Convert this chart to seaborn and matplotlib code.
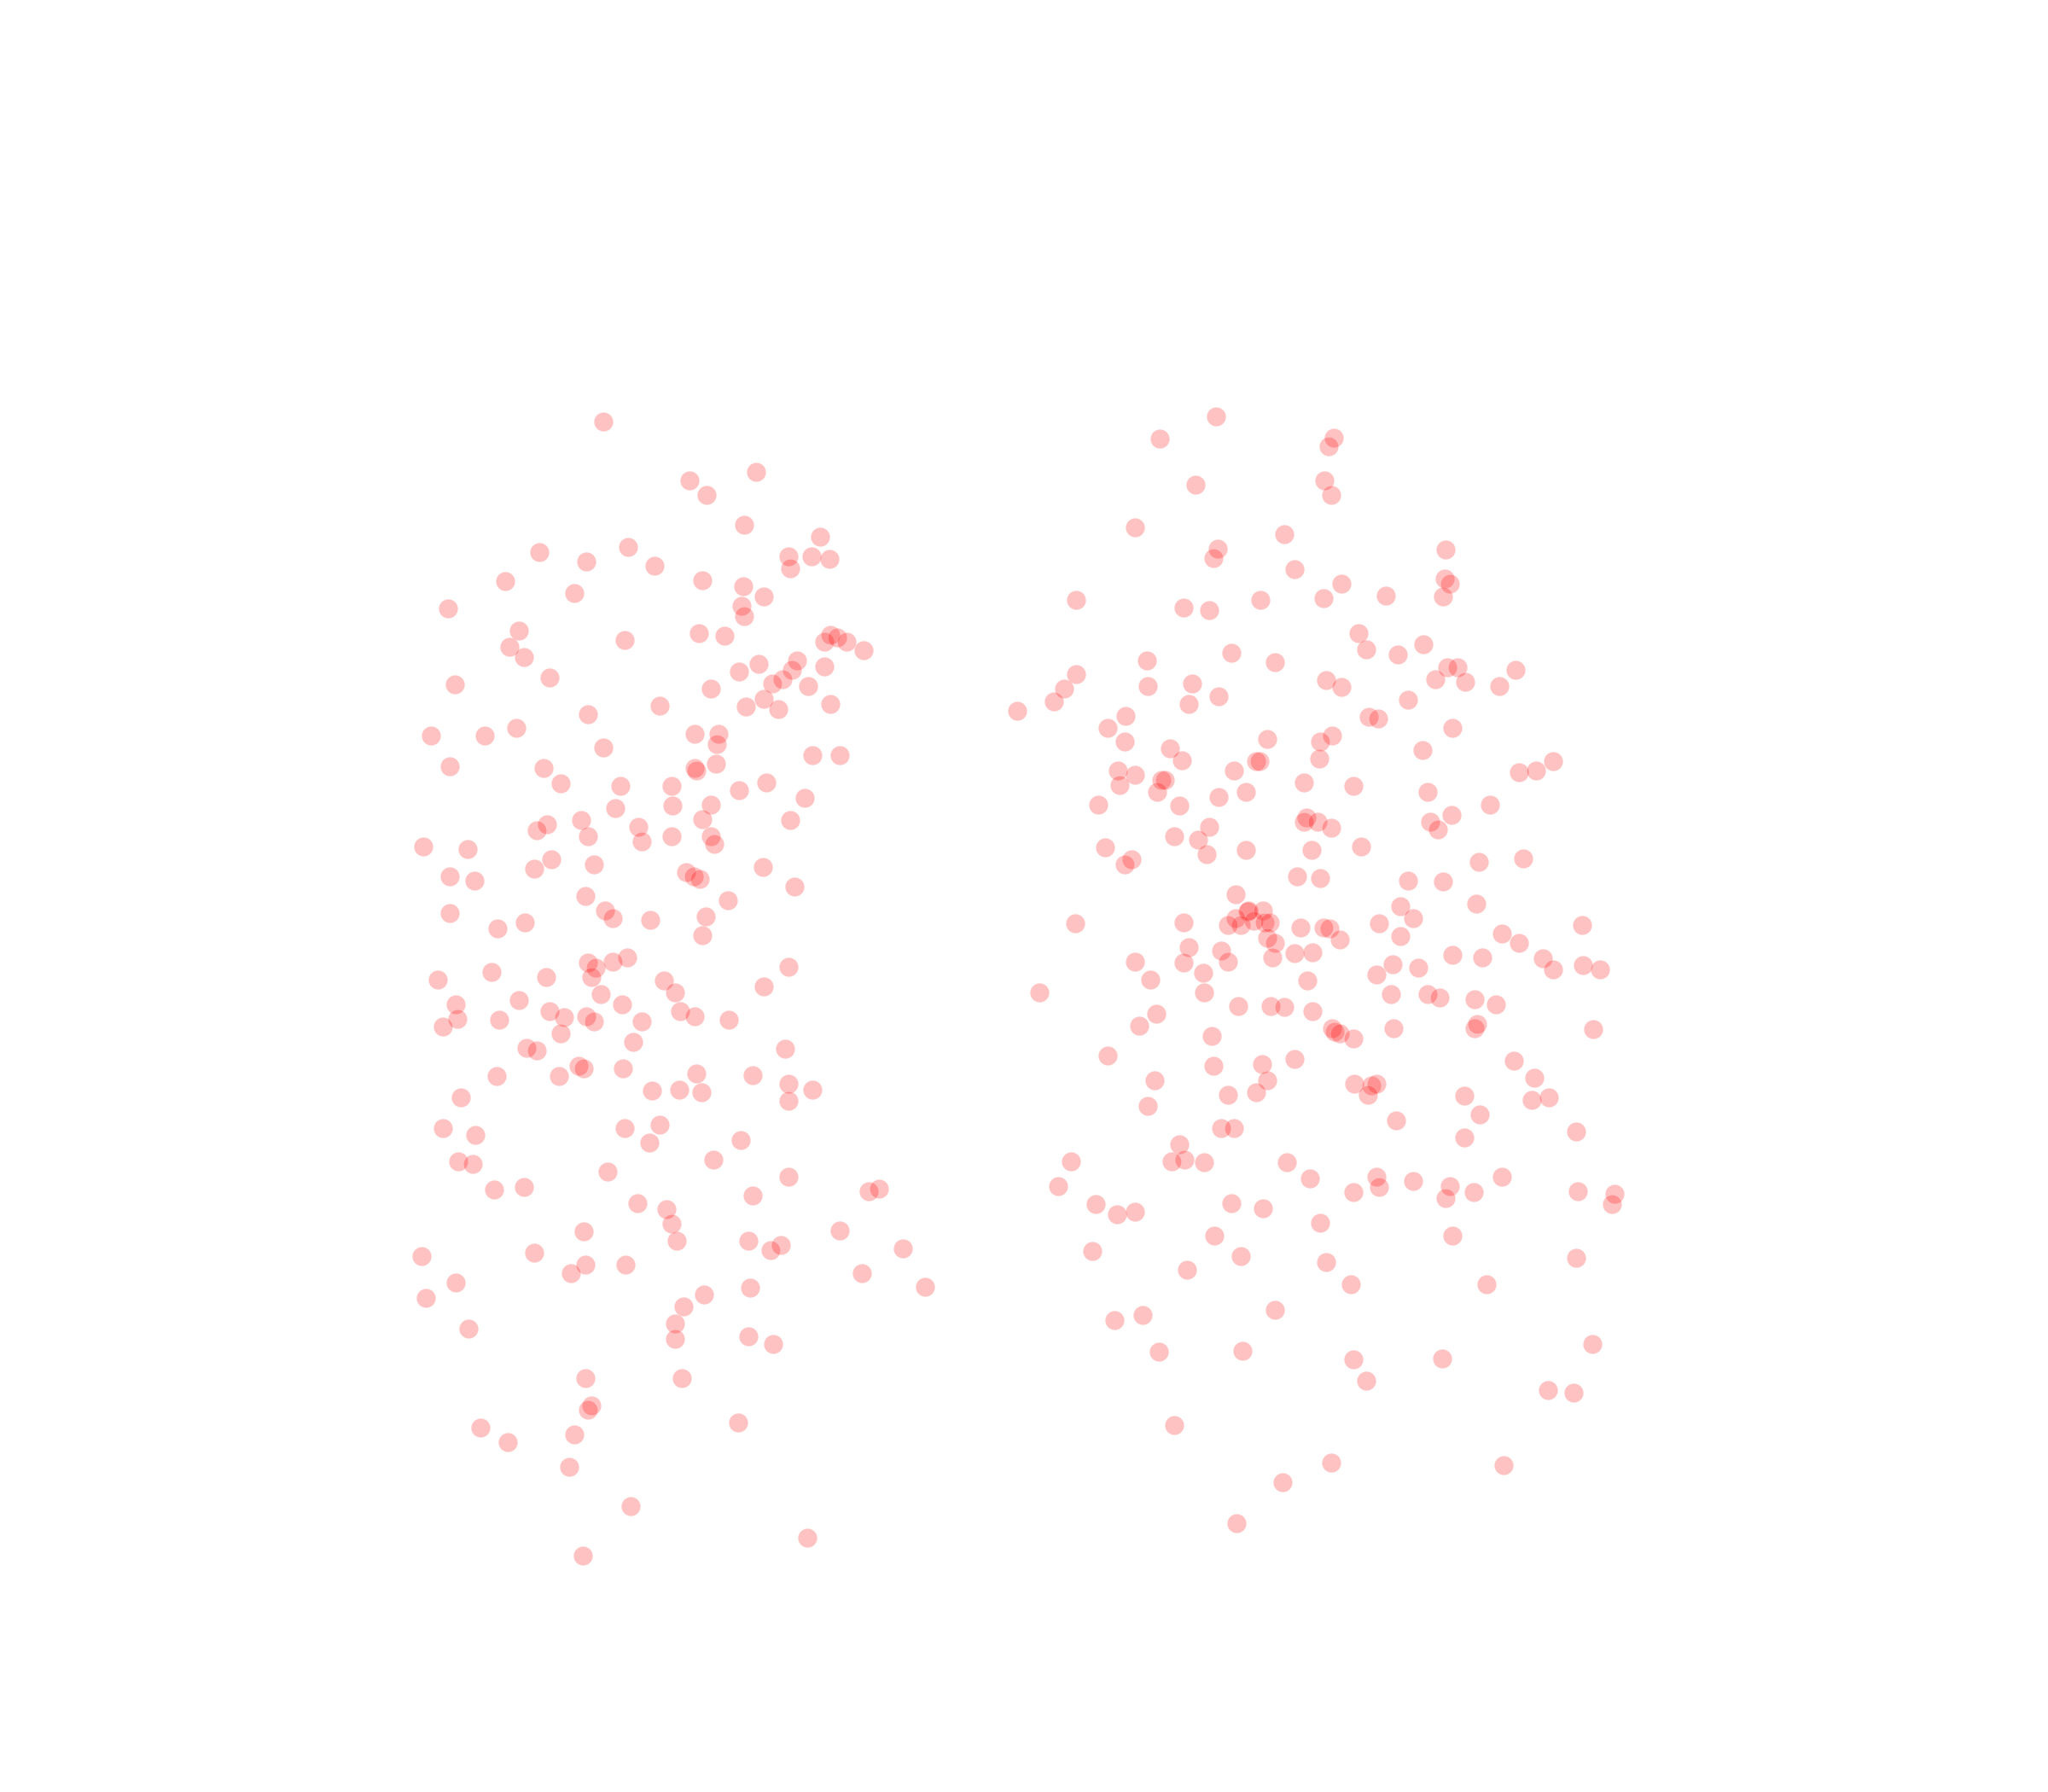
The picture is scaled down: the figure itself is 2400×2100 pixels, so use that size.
import pandas as pd
import seaborn as sns
import matplotlib.pyplot as plt

# Point positions (x to the right, y downwards)
left_points = [
    (462, 323), (579, 361), (528, 368), (541, 379), (570, 402), (628, 411),
    (604, 426), (605, 435), (621, 426), (635, 428), (413, 423), (449, 430),
    (481, 419), (501, 433), (387, 445), (538, 444), (569, 449), (585, 457),
    (440, 454), (343, 466), (568, 464), (570, 472), (397, 483), (390, 495),
    (401, 503), (478, 490), (535, 485), (555, 487), (631, 491), (636, 486),
    (641, 488), (648, 491), (661, 498), (421, 519), (348, 524), (581, 508),
    (566, 514), (610, 506), (606, 513), (599, 520), (591, 523), (631, 510),
    (619, 525), (544, 527), (585, 535), (571, 541), (596, 543), (636, 539),
    (505, 540), (450, 547), (395, 557), (371, 563), (330, 563), (532, 562),
    (550, 562), (549, 570), (462, 572), (622, 578), (643, 578), (344, 587),
    (416, 588), (532, 588), (533, 590), (548, 585), (429, 600), (475, 602),
    (514, 602), (587, 599), (566, 605), (616, 611), (544, 616), (515, 617),
    (471, 619), (445, 628), (538, 627), (605, 628), (419, 631), (411, 636),
    (489, 633), (450, 640), (491, 644), (514, 640), (544, 640), (547, 646),
    (324, 648), (358, 650), (422, 658), (455, 662), (409, 665), (525, 668),
    (531, 671), (536, 673), (584, 664), (344, 671), (363, 674), (608, 679),
    (448, 686), (557, 689), (463, 697), (469, 703), (498, 704), (540, 702),
    (538, 716), (344, 699), (402, 706), (381, 711), (604, 740), (450, 737),
    (456, 741), (480, 733), (469, 736), (453, 748), (376, 744), (418, 748),
    (335, 750), (508, 751), (517, 760), (585, 755), (460, 761), (476, 769),
    (349, 769), (397, 766), (421, 774), (432, 779), (521, 774), (532, 778),
    (558, 781), (382, 781), (350, 780), (339, 786), (449, 778), (455, 782),
    (491, 782), (429, 791), (485, 798), (403, 802), (411, 804), (601, 803),
    (443, 816), (447, 818), (477, 818), (380, 824), (428, 824), (533, 822),
    (576, 823), (604, 830), (622, 834), (520, 834), (537, 836), (499, 835),
    (604, 843), (353, 840), (478, 864), (505, 861), (339, 864), (364, 869),
    (497, 875), (567, 873), (351, 889), (362, 891), (546, 888), (465, 897),
    (604, 901), (378, 911), (401, 909), (576, 915), (665, 912), (673, 910),
    (488, 921), (510, 926), (514, 937), (447, 943), (643, 942), (518, 950),
    (573, 950), (598, 953), (590, 957), (691, 956), (323, 962), (409, 959),
    (448, 968), (479, 968), (437, 975), (660, 975), (349, 982), (574, 986),
    (708, 985), (539, 991), (326, 994), (523, 1000), (359, 1017), (517, 1013),
    (517, 1025), (573, 1023), (592, 1029), (448, 1055), (522, 1055),
    (453, 1076), (450, 1079), (368, 1093), (389, 1104), (440, 1098),
    (565, 1089), (436, 1123), (483, 1153), (618, 1177), (446, 1191),
]

right_points = [
    (931, 319), (888, 336), (1021, 335), (1017, 342), (915, 371), (1014, 368),
    (1019, 379), (869, 404), (983, 409), (1107, 421), (932, 420), (929, 427),
    (991, 436), (1027, 447), (1106, 443), (1110, 447), (1105, 457), (824, 459),
    (906, 465), (926, 467), (965, 459), (1013, 458), (1061, 456), (1040, 485),
    (1046, 497), (1090, 493), (1070, 501), (943, 500), (976, 507), (878, 506),
    (824, 516), (815, 527), (807, 537), (779, 544), (879, 525), (913, 523),
    (910, 539), (933, 533), (1015, 521), (1027, 526), (1108, 511), (1116, 511),
    (1099, 520), (1122, 522), (1160, 513), (1148, 525), (1078, 536),
    (1048, 549), (1055, 550), (862, 548), (848, 557), (1112, 557), (1020, 563),
    (1011, 568), (970, 566), (861, 568), (896, 573), (905, 582), (962, 583),
    (964, 583), (1089, 574), (1010, 581), (1163, 591), (1176, 590),
    (1189, 583), (856, 590), (869, 593), (857, 601), (945, 590), (889, 597),
    (886, 606), (892, 597), (998, 599), (1036, 602), (1093, 606), (841, 616),
    (903, 617), (933, 610), (954, 606), (1141, 616), (1000, 626), (998, 629),
    (1009, 629), (1019, 634), (1095, 629), (1101, 635), (1111, 624),
    (926, 633), (899, 640), (917, 643), (1042, 648), (846, 649), (954, 651),
    (924, 654), (1004, 651), (866, 658), (861, 662), (1132, 660), (1166, 657),
    (993, 671), (1011, 672), (1078, 674), (1105, 675), (946, 685), (1072, 694),
    (1130, 692), (955, 698), (956, 697), (967, 697), (946, 703), (950, 708),
    (960, 705), (968, 706), (972, 706), (940, 708), (906, 706), (823, 707),
    (1018, 711), (1013, 710), (996, 710), (1056, 707), (1082, 703),
    (1211, 708), (1026, 719), (1072, 717), (1150, 715), (970, 718), (976, 722),
    (910, 725), (935, 728), (991, 730), (1005, 729), (1163, 722), (1135, 733),
    (1112, 731), (869, 736), (906, 737), (940, 736), (974, 733), (1181, 734),
    (1189, 742), (1212, 739), (1225, 742), (1086, 741), (1066, 738),
    (921, 745), (881, 750), (1054, 746), (1001, 751), (796, 760), (922, 760),
    (1065, 761), (1093, 761), (1102, 764), (1129, 765), (1145, 769),
    (948, 770), (973, 770), (983, 771), (1005, 774), (885, 776), (872, 785),
    (1020, 787), (1022, 790), (1026, 791), (1036, 795), (1067, 787),
    (1129, 787), (1131, 784), (1220, 788), (928, 793), (848, 808), (929, 816),
    (966, 815), (991, 811), (970, 827), (1159, 812), (1175, 825), (884, 827),
    (1037, 830), (1050, 831), (1054, 830), (1047, 838), (962, 836), (940, 838),
    (1121, 839), (1173, 842), (1186, 840), (879, 847), (1133, 853),
    (1069, 858), (935, 864), (945, 864), (1121, 871), (1207, 866), (903, 876),
    (907, 888), (897, 889), (922, 890), (820, 889), (985, 890), (1003, 902),
    (1054, 901), (1056, 909), (1036, 913), (1082, 904), (1110, 908),
    (1107, 917), (1128, 913), (1150, 901), (1208, 912), (1236, 914),
    (1234, 922), (810, 908), (839, 922), (855, 930), (869, 928), (943, 921),
    (967, 925), (1011, 936), (930, 946), (1112, 946), (836, 958), (950, 962),
    (1015, 966), (1207, 963), (909, 972), (1034, 983), (1138, 983),
    (976, 1003), (875, 1007), (853, 1011), (887, 1035), (951, 1034),
    (1219, 1029), (1036, 1041), (1104, 1040), (1046, 1057), (1185, 1064),
    (1205, 1066), (899, 1091), (982, 1135), (1019, 1120), (1151, 1122),
    (947, 1166),
]

df = pd.DataFrame(left_points + right_points, columns=["x", "y"])
df["group"] = ["left"] * len(left_points) + ["right"] * len(right_points)

fig = plt.figure(figsize=(24, 21), dpi=100)
ax = fig.add_axes([0, 0, 1, 1])

sns.scatterplot(
    data=df, x="x", y="y", color="red", alpha=0.24, s=260,
    edgecolor="white", linewidth=0.5, ax=ax, legend=False,
)

ax.set_xlim(0, 1568)
ax.set_ylim(1372, 0)
ax.axis("off")

fig.savefig("out.png", dpi=100, facecolor="white")
